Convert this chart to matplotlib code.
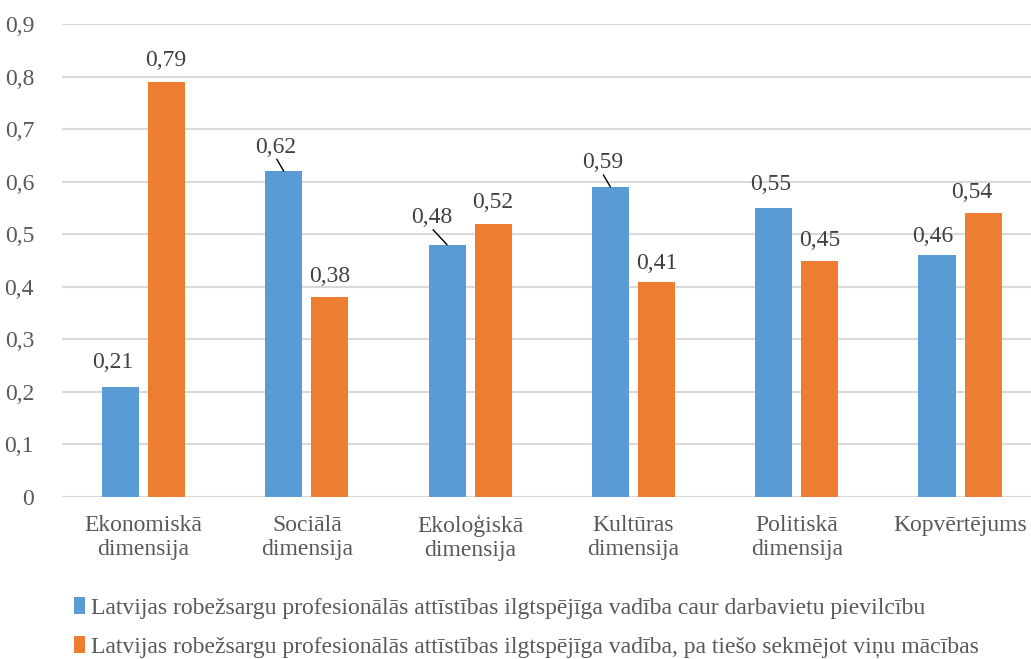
import numpy as np
import matplotlib
matplotlib.use("Agg")
import matplotlib.pyplot as plt

# ---------------- Data ----------------
categories = ["Ekonomiskā\ndimensija", "Sociālā\ndimensija", "Ekoloģiskā\ndimensija",
              "Kultūras\ndimensija", "Politiskā\ndimensija", "Kopvērtējums"]
series_a = [0.21, 0.62, 0.48, 0.59, 0.55, 0.46]
series_b = [0.79, 0.38, 0.52, 0.41, 0.45, 0.54]
label_a = "Latvijas robežsargu profesionālās attīstības ilgtspējīga vadība caur darbavietu pievilcību"
label_b = "Latvijas robežsargu profesionālās attīstības ilgtspējīga vadība, pa tiešo sekmējot viņu mācības"
y_ticks = [0.0, 0.1, 0.2, 0.3, 0.4, 0.5, 0.6, 0.7, 0.8, 0.9]

# label offsets in pixels (dx, dy) from bar top, and whether a leader line is shown
offsets_a = [(-8, 24), (-8, 24), (-15, 27), (-8, 24), (-3, 23), (-4, 19)]
leader_a = [False, True, True, True, False, False]
offsets_b = [(-1, 21), (0, 21), (0, 21), (0, 18), (0, 20), (-11, 21)]

# ---------------- Style ----------------
BLUE = "#5B9BD5"
ORANGE = "#ED7D31"
GRID = "#D9D9D9"
TICK_COLOR = "#595959"
LABEL_COLOR = "#404040"
FS = 17

plt.rcParams["font.family"] = ["Liberation Serif", "DejaVu Serif"]

fig = plt.figure(figsize=(10.31, 6.59), dpi=100)
ax = fig.add_axes([61.8 / 1031, 1 - 497 / 659, (1041.7 - 61.8) / 1031, (497 - 24) / 659])

x = np.arange(len(categories))
width = 0.227
shift = 0.141

bars_a = ax.bar(x - shift, series_a, width, color=BLUE, label=label_a, zorder=3)
bars_b = ax.bar(x + shift, series_b, width, color=ORANGE, label=label_b, zorder=3)

def fmt(v):
    return f"{v:.2f}".replace(".", ",")

for xi, v, (dx, dy), lead in zip(x - shift, series_a, offsets_a, leader_a):
    ax.annotate(fmt(v), xy=(xi, v), xytext=(dx, dy), textcoords="offset pixels",
                ha="center", va="center", fontsize=FS, color=LABEL_COLOR, zorder=4)
    if lead:
        # leader line from just under the label down to the bar top
        ax.annotate("", xy=(xi, v), xytext=(dx + 1, dy - 12), textcoords="offset pixels",
                    arrowprops=dict(arrowstyle="-", color="black", lw=1,
                                    shrinkA=0, shrinkB=0), zorder=4)

for xi, v, (dx, dy) in zip(x + shift, series_b, offsets_b):
    ax.annotate(fmt(v), xy=(xi, v), xytext=(dx, dy), textcoords="offset pixels",
                ha="center", va="center", fontsize=FS, color=LABEL_COLOR, zorder=4)

ax.set_xlim(-0.5, len(categories) - 0.5)
ax.set_ylim(0, 0.9)
ax.set_yticks(y_ticks)
ax.set_yticklabels([("0" if t == 0 else f"{t:.1f}".replace(".", ",")) for t in y_ticks])
ax.set_xticks(x)
ax.set_xticklabels(categories, linespacing=1.2)

ax.yaxis.grid(True, color=GRID, lw=1.5, zorder=0)
for s in ax.spines.values():
    s.set_visible(False)
ax.tick_params(axis="both", length=0, labelsize=FS, colors=TICK_COLOR)
ax.tick_params(axis="y", pad=20)
ax.tick_params(axis="x", pad=13)

leg = fig.legend(handles=[bars_a, bars_b], loc="upper left",
                 bbox_to_anchor=(74 / 1031, 1 - 597 / 659), frameon=False,
                 fontsize=FS, handlelength=0.45, handleheight=0.75,
                 handletextpad=0.25, labelspacing=0.72, borderpad=0, borderaxespad=0)
for t in leg.get_texts():
    t.set_color(TICK_COLOR)

fig.savefig("out.png", dpi=100)
